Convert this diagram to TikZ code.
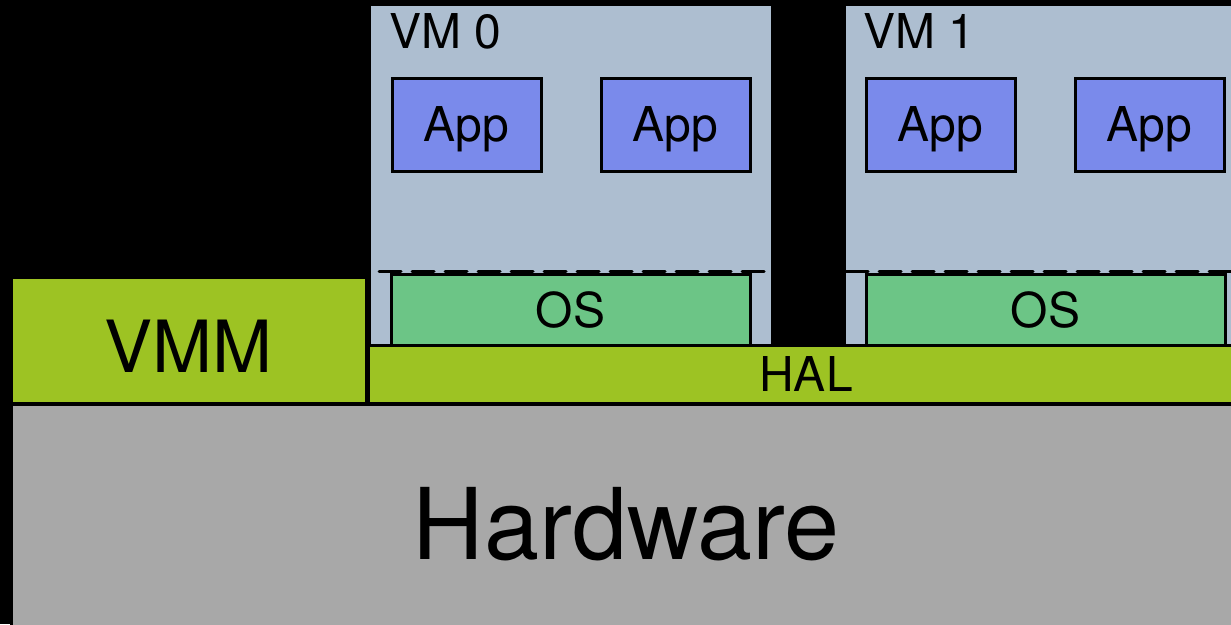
\documentclass[tikz,border=0pt]{standalone}
\usepackage{fontspec}
\setmainfont{TeX Gyre Heros}
\usepackage{tikz}

\definecolor{hwgray}{RGB}{168,168,168}
\definecolor{vmmgreen}{RGB}{157,195,35}
\definecolor{vmblue}{RGB}{173,190,208}
\definecolor{appblue}{RGB}{122,138,235}
\definecolor{osgreen}{RGB}{108,197,134}

\begin{document}
\begin{tikzpicture}[x=1pt,y=-1pt,
  box/.style={draw=black,line width=3pt,inner sep=0pt,outer sep=0pt,anchor=north west},
  small/.style={font=\fontsize{48}{56}\selectfont}]
\fill[black] (0,0) rectangle (1231,624);
\useasboundingbox (0,0) rectangle (1231,624);
\node[box,fill=hwgray,minimum width=1230pt,minimum height=240pt,font=\fontsize{99}{110}\selectfont] (hw) at (11,404) {Hardware};
\node[box,fill=vmmgreen,minimum width=355pt,minimum height=126pt,font=\fontsize{72}{80}\selectfont,text height=64pt,text depth=0pt] (vmm) at (11,277) {VMM};
\node[box,draw=none,fill=vmblue,minimum width=400pt,minimum height=339pt] (vm0) at (371,6) {};
\node[box,draw=none,fill=vmblue,minimum width=400pt,minimum height=339pt] (vm1) at (846,6) {};
\node[small,anchor=base west,inner sep=0pt] (vm0label) at (389,48) {VM 0};
\node[small,anchor=base west,inner sep=0pt] (vm1label) at (863,48) {VM 1};
\node[box,fill=appblue,small,text depth=0pt,minimum width=149pt,minimum height=93pt] (app00) at (392,78) {App};
\node[box,fill=appblue,small,text depth=0pt,minimum width=149pt,minimum height=93pt] (app01) at (601,78) {App};
\node[box,fill=appblue,small,text depth=0pt,minimum width=149pt,minimum height=93pt] (app10) at (866,78) {App};
\node[box,fill=appblue,small,text depth=0pt,minimum width=149pt,minimum height=93pt] (app11) at (1075,78) {App};
\node[box,fill=vmmgreen,small,minimum width=876pt,minimum height=58pt] (hal) at (368,345) {HAL};
\node[box,fill=osgreen,small,minimum width=359pt,minimum height=71pt] (os0) at (391,274) {OS};
\node[box,fill=osgreen,small,minimum width=359pt,minimum height=71pt] (os1) at (866,274) {OS};
% dashed line between apps and OS
\draw[line width=3pt,dash pattern=on 22pt off 11pt,line cap=round] (379,271.5) -- (766,271.5);
\draw[line width=3pt,dash pattern=on 22pt off 11pt,line cap=round] (846,271.5) -- (1240,271.5);
\end{tikzpicture}
\end{document}
